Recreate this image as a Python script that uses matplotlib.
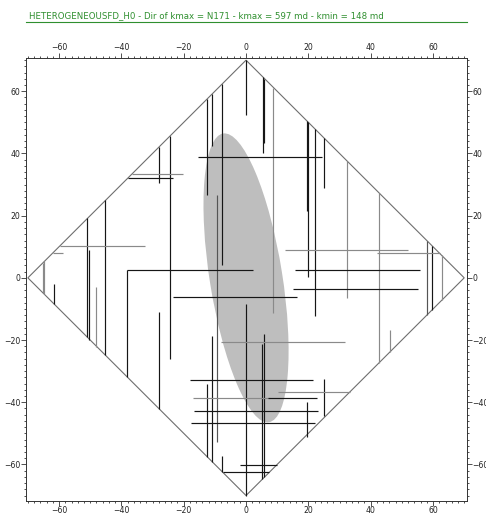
import matplotlib
matplotlib.use("Agg")
import matplotlib.pyplot as plt
from matplotlib.patches import Ellipse, Polygon
from matplotlib.lines import Line2D
from matplotlib.ticker import MultipleLocator

# ---------------- data ----------------
title = "HETEROGENEOUSFD_H0 - Dir of kmax = N171 - kmax = 597 md - kmin = 148 md"
kmax_dir = 171          # azimuth (deg from north)
kmax = 597
kmin = 148
ellipse_semi_major = 47.0
domain_half = 70        # diamond half-diagonal

# vertical fractures: x, y_start, y_end, set
v_x  = [0.0, -7.6, -10.8, -12.4, -9.4, -24.3, -27.8, -45.1, -50.9, -50.3, -48.1,
        -65.2, -64.7, -61.5, -38.1, -27.8, -10.8, -12.4, 0.0, -7.6, 5.2, 5.9,
        8.8, 19.5, 20.0, 22.2, 25.1, 32.4, 42.6, 46.2, 58.0, 59.6, 62.8,
        5.4, 5.9, 25.1, 19.5]
v_y0 = [52.4, 4.0, 42.3, 26.8, -52.9, -26.1, 30.5, -24.9, -19.1, -20.0, -22.1,
        -4.8, -5.3, -8.5, -32.0, -42.2, -59.2, -57.6, -70.0, -62.4, -64.8, -64.1,
        -11.2, 21.4, 0.3, -12.3, 28.9, -6.4, -27.4, -23.8, -12.0, -10.4, -7.2,
        40.0, 43.4, -44.3, -51.3]
v_y1 = [70.0, 62.4, 59.2, 57.6, 26.8, 45.7, 42.2, 24.9, 19.1, 9.1, -3.1,
        4.8, 5.3, -2.1, 2.4, -11.0, -18.7, -34.2, -8.5, -57.2, -21.3, -18.1,
        61.2, 50.5, 50.0, 47.8, 44.9, 37.6, 27.4, -16.8, 12.0, 10.4, 7.2,
        64.6, 64.1, -32.6, -39.8]
v_set = ["A", "A", "A", "A", "C", "A", "A", "A", "A", "A", "B",
         "B", "B", "A", "A", "A", "A", "A", "A", "A", "A", "A",
         "B", "A", "A", "A", "A", "B", "B", "B", "C", "A", "B",
         "A", "A", "A", "A"]

# horizontal fractures: y, x_start, x_end, set
h_y  = [38.9, 33.5, 32.2, 10.4, 8.1, 2.4, -6.0, -20.6, -33.0, -38.7, -38.7,
        -36.8, -42.7, -46.7, -60.2, -62.5, 8.8, 7.9, 2.6, -3.7]
h_x0 = [-15.5, -36.5, -37.8, -59.6, -61.9, -38.1, -23.3, -8.1, -18.0, -17.1, 7.2,
        10.4, -16.7, -17.6, -1.9, -7.5, 12.5, 42.1, 15.7, 15.2]
h_x1 = [24.3, -20.3, -23.5, -32.4, -58.8, 2.1, 16.4, 31.8, 21.6, 7.7, 22.7,
        33.2, 23.2, 22.1, 9.8, 7.5, 52.1, 62.1, 55.8, 55.1]
h_set = ["A", "B", "A", "B", "B", "A", "A", "B", "A", "B", "A",
         "B", "A", "A", "A", "A", "B", "B", "A", "A"]

x_ticks = [-60, -40, -20, 0, 20, 40, 60]
y_ticks = [-60, -40, -20, 0, 20, 40, 60]

# ---------------- styling ----------------
set_colors = {"A": "#161616", "B": "#8a8a8a", "C": "#555555"}
green = "#2f8f2f"

fig = plt.figure(figsize=(4.86, 5.14), dpi=100)
ax = fig.add_axes([26 / 486, 1 - 500.5 / 514, (466.7 - 26) / 486, (500.5 - 58.3) / 514])
ax.set_xlim(-70.6, 70.8)
ax.set_ylim(-71.6, 70.6)

# permeability ellipse
b = ellipse_semi_major * kmin / kmax
ell = Ellipse((0, 0), width=2 * b, height=2 * ellipse_semi_major,
              angle=180 - kmax_dir, facecolor="#bebebe", edgecolor="none", zorder=1)
ax.add_patch(ell)

# domain boundary (diamond)
R = domain_half
diamond = Polygon([(0, R), (R, 0), (0, -R), (-R, 0)], closed=True,
                  fill=False, edgecolor="#6e6e6e", linewidth=0.8, zorder=2)
ax.add_patch(diamond)

# fractures
for x, y0, y1, s in zip(v_x, v_y0, v_y1, v_set):
    ax.plot([x, x], [y0, y1], color=set_colors[s], linewidth=0.85, zorder=3,
            solid_capstyle="butt")
for y, x0, x1, s in zip(h_y, h_x0, h_x1, h_set):
    ax.plot([x0, x1], [y, y], color=set_colors[s], linewidth=0.85, zorder=3,
            solid_capstyle="butt")

# axes & ticks
ax.set_xticks(x_ticks)
ax.set_yticks(y_ticks)
ax.xaxis.set_minor_locator(MultipleLocator(2))
ax.yaxis.set_minor_locator(MultipleLocator(2))
ax.tick_params(which="both", direction="out", top=True, right=True,
               labeltop=True, labelright=True, labelbottom=True, labelleft=True,
               colors="#333333", labelcolor="#222222", width=0.6)
ax.tick_params(which="major", length=3.6, labelsize=5.6, pad=0.6)
ax.tick_params(which="minor", length=1.7)
for sp in ax.spines.values():
    sp.set_color("#333333")
    sp.set_linewidth(0.7)

# title with underline
fig.text(29 / 486, 1 - 18.5 / 514, title, color=green, fontsize=6.2,
         ha="left", va="baseline")
fig.add_artist(Line2D([26 / 486, 467 / 486], [1 - 22 / 514, 1 - 22 / 514],
                      color=green, linewidth=0.8, transform=fig.transFigure))

fig.savefig("out.png", dpi=100)
